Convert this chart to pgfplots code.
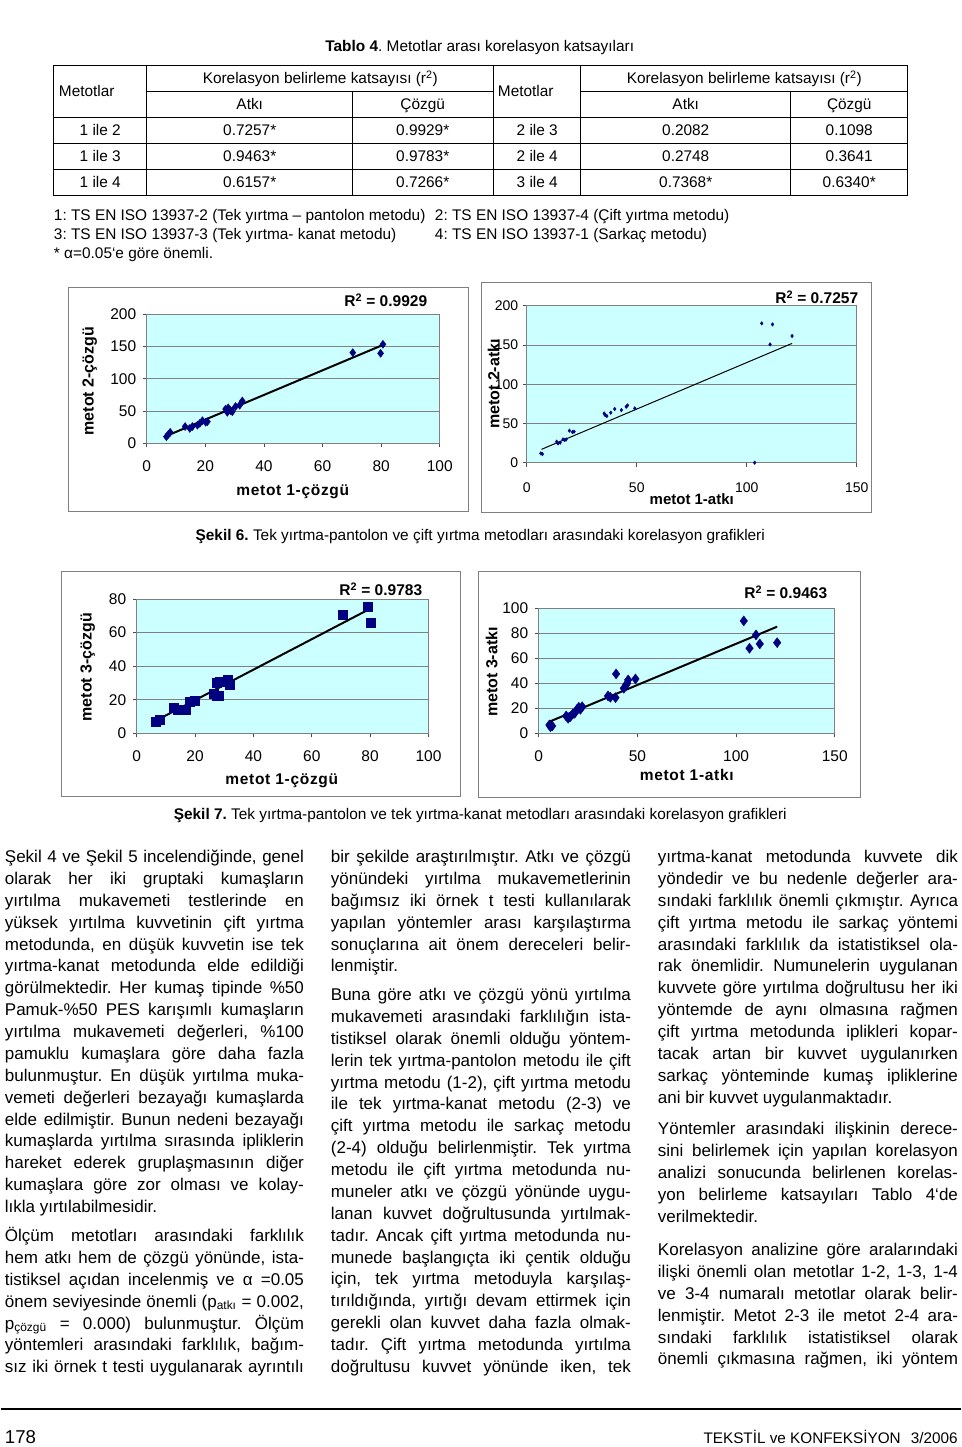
\documentclass[border=0pt]{standalone}
\usepackage{pgfplots}
\pgfplotsset{compat=1.18}
\usepackage{fontspec}
\setmainfont{Liberation Sans}
\frenchspacing
\definecolor{mnavy}{RGB}{0,0,128}
\definecolor{plotbg}{RGB}{204,255,255}
\definecolor{gridc}{RGB}{128,128,128}
\definecolor{framec}{RGB}{128,128,128}
\newcommand\tfont{\fontsize{15.4}{18}\selectfont}
\newcommand\bodyfont{\fontsize{17}{21.88}\selectfont}
\newcommand\J[1]{\hbox to\hsize{#1}}
\newcommand\E[1]{\hbox{#1}}
\newcommand\lsp{\addfontfeature{LetterSpace=4.5}}
\pgfplotsset{
 excel/.style={scale only axis, anchor=south west, clip=false,
   axis background/.style={fill=plotbg},
   ymajorgrids, major grid style={gridc, line width=0.8pt},
   axis line style={gridc, line width=0.8pt},
   tick align=outside, tick pos=left, major tick length=4pt,
   tick style={black!70, line width=0.8pt},
   /pgf/number format/assume math mode=true,
   tick label style={font=\fontsize{15.5}{18}\selectfont},
   xticklabel style={yshift=-10pt}, yticklabel style={xshift=-3pt}},
}
\begin{document}
\begin{tikzpicture}
\fill[white] (0,0) rectangle (960pt,-1447pt);
% ---------------- Table ----------------
\node[anchor=base, inner sep=0, font=\tfont] at (479pt,-51.5pt) {\textbf{Tablo 4}. Metotlar arası korelasyon katsayıları};
\begin{scope}[line width=0.9pt]
\draw (53pt,-65pt) rectangle (907pt,-195pt);
\foreach \y in {117,143,169} \draw (53pt,-\y pt) -- (907pt,-\y pt);
\draw (146pt,-91pt) -- (493pt,-91pt);
\draw (580pt,-91pt) -- (907pt,-91pt);
\foreach \x in {146,493,580} \draw (\x pt,-65pt) -- (\x pt,-195pt);
\foreach \x in {352,790} \draw (\x pt,-91pt) -- (\x pt,-195pt);
\end{scope}
\begin{scope}[every node/.style={inner sep=0, font=\tfont}]
\node[anchor=base west] at (58pt,-96.5pt) {Metotlar};
\node[anchor=base west] at (497pt,-96.5pt) {Metotlar};
\node[anchor=base] at (319.5pt,-83.5pt) {Korelasyon belirleme katsayısı (r\textsuperscript{2})};
\node[anchor=base] at (743.5pt,-83.5pt) {Korelasyon belirleme katsayısı (r\textsuperscript{2})};
\node[anchor=base] at (249pt,-109.5pt) {Atkı};
\node[anchor=base] at (422pt,-109.5pt) {Çözgü};
\node[anchor=base] at (685pt,-109.5pt) {Atkı};
\node[anchor=base] at (848.5pt,-109.5pt) {Çözgü};
\node[anchor=base] at (99.5pt,-135.5pt) {1 ile 2};
\node[anchor=base] at (249pt,-135.5pt) {0.7257*};
\node[anchor=base] at (422pt,-135.5pt) {0.9929*};
\node[anchor=base] at (536.5pt,-135.5pt) {2 ile 3};
\node[anchor=base] at (685pt,-135.5pt) {0.2082};
\node[anchor=base] at (848.5pt,-135.5pt) {0.1098};
\node[anchor=base] at (99.5pt,-161.5pt) {1 ile 3};
\node[anchor=base] at (249pt,-161.5pt) {0.9463*};
\node[anchor=base] at (422pt,-161.5pt) {0.9783*};
\node[anchor=base] at (536.5pt,-161.5pt) {2 ile 4};
\node[anchor=base] at (685pt,-161.5pt) {0.2748};
\node[anchor=base] at (848.5pt,-161.5pt) {0.3641};
\node[anchor=base] at (99.5pt,-187.5pt) {1 ile 4};
\node[anchor=base] at (249pt,-187.5pt) {0.6157*};
\node[anchor=base] at (422pt,-187.5pt) {0.7266*};
\node[anchor=base] at (536.5pt,-187.5pt) {3 ile 4};
\node[anchor=base] at (685pt,-187.5pt) {0.7368*};
\node[anchor=base] at (848.5pt,-187.5pt) {0.6340*};
\node[anchor=base west] at (53pt,-220.5pt) {1: TS EN ISO 13937-2 (Tek yırtma – pantolon metodu)};
\node[anchor=base west] at (434pt,-220.5pt) {2: TS EN ISO 13937-4 (Çift yırtma metodu)};
\node[anchor=base west] at (53pt,-239.5pt) {3: TS EN ISO 13937-3 (Tek yırtma- kanat metodu)};
\node[anchor=base west] at (434pt,-239.5pt) {4: TS EN ISO 13937-1 (Sarkaç metodu)};
\node[anchor=base west] at (53pt,-258.5pt) {* α=0.05`e göre önemli.};
\node[anchor=base] at (479.5pt,-540.5pt) {\textbf{Şekil 6.} Tek yırtma-pantolon ve çift yırtma metodları arasındaki korelasyon grafikleri};
\node[anchor=base] at (479.5pt,-819.5pt) {\textbf{Şekil 7.} Tek yırtma-pantolon ve tek yırtma-kanat metodları arasındaki korelasyon grafikleri};
\end{scope}
% ---------------- Chart frames ----------------
\begin{scope}[framec, line width=1pt]
\draw (68pt,-287pt) rectangle (468pt,-511pt);
\draw (481pt,-282pt) rectangle (871pt,-512pt);
\draw (61pt,-571pt) rectangle (460pt,-796pt);
\draw (478pt,-571pt) rectangle (860pt,-797pt);
\end{scope}
% ---------------- Chart 1 ----------------
\begin{axis}[excel, at={(146pt,-443.3pt)}, width=293pt, height=129pt,
  xmin=0, xmax=100, ymin=0, ymax=200, xtick={0,20,...,100}, ytick={0,50,...,200}]
\addplot[only marks, mark=diamond*, mark size=4pt, mnavy] coordinates {
(6.7,10.3) (7.4,14) (8.0,17) (13.1,26) (14.7,23) (15.6,26) (17.3,28) (18.1,31) (19,35) (20.1,32.6) (20.7,33.6) (26.9,53) (27.8,55) (27.5,48) (28.6,50.6) (29.2,49) (30.3,57) (31.7,59) (32.6,65.6) (70.3,140.6) (79.8,139.5) (80.6,153.5)};
\addplot[black, line width=2pt, no marks] coordinates {(6.7,11.4) (80.6,152.5)};
\end{axis}
% ---------------- Chart 2 ----------------
\begin{axis}[excel, at={(526pt,-462.7pt)}, width=330pt, height=157pt,
  xmin=0, xmax=150, ymin=0, ymax=200, xtick={0,50,...,150}, ytick={0,50,...,200},
  tick label style={font=\fontsize{14}{16}\selectfont},
  xticklabel style={yshift=-2pt}, yticklabel style={xshift=2pt}]
\addplot[only marks, mark=diamond*, mark size=1.8pt, mnavy] coordinates {
(6.4,11.9) (7.1,11) (13.6,26.8) (14.2,24.6) (15.2,25.5) (16.5,29.7) (17.3,28.9) (17.9,29.7) (19.4,40.8) (20.8,39) (21.5,39.5) (35.2,62.8) (35.6,60.7) (36.4,59.4) (38.2,63.7) (40,68.4) (43,67) (45.2,71.3) (45.8,73) (49.1,69.2) (103.6,0) (106.8,177.5) (110.6,150.7) (111.7,176.2) (120.6,161.4)};
\addplot[black, line width=1pt, no marks] coordinates {(6.7,17) (120.6,152)};
\end{axis}
% ---------------- Chart 3 ----------------
\begin{axis}[excel, at={(136pt,-733.3pt)}, width=291.7pt, height=134.3pt,
  xmin=0, xmax=100, ymin=0, ymax=80, xtick={0,20,...,100}, ytick={0,20,...,80}]
\addplot[only marks, mark=square*, mark size=4.5pt, mnavy] coordinates {
(6.5,6.9) (7.7,7.9) (12.8,15.3) (14.2,14.3) (15.3,13.9) (16.8,14.3) (18.3,18.8) (19.9,19.4) (26.5,23.4) (27.4,22.2) (28.2,22.4) (27.4,30.2) (28.6,30.6) (29.4,30.8) (31.1,31.7) (32,28.8) (70.5,70.4) (79.3,75.4) (80.2,66.1)};
\addplot[black, line width=2pt, no marks] coordinates {(6.5,7.5) (80.2,74.4)};
\end{axis}
% ---------------- Chart 4 ----------------
\begin{axis}[excel, at={(538pt,-733.3pt)}, width=296pt, height=125pt,
  xmin=0, xmax=150, ymin=0, ymax=100, xtick={0,50,...,150}, ytick={0,20,...,100}]
\addplot[only marks, mark=diamond*, mark size=5pt, mnavy] coordinates {
(5.4,6.7) (6.8,5.9) (5.9,5.3) (13.9,13.9) (14.9,12) (16,13.3) (17.2,15.5) (18.2,16) (19.4,19.2) (20.3,20.8) (22,21.3) (21.1,19.2) (35.1,29.9) (36.3,28.8) (38.9,28.5) (39.2,47.5) (43.1,36) (44.3,38.7) (45.3,42.7) (44.8,40) (49,43.5) (103.9,89.9) (106.8,68) (110.1,78.7) (112,71.5) (120.8,72.5)};
\addplot[black, line width=2pt, no marks] coordinates {(5.4,9.3) (120.8,85.3)};
\end{axis}
% ---------------- Chart labels ----------------
\begin{scope}[every node/.style={inner sep=0, font=\fontsize{16}{18}\selectfont\bfseries}]
\node[rotate=90] at (89pt,-381pt) {metot 2-çözgü};
\node[rotate=90] at (493pt,-384pt) {metot 2-atkı};
\node[rotate=90] at (87pt,-667pt) {metot 3-çözgü};
\node[rotate=90] at (491pt,-672pt) {metot 3-atkı};
\node[font=\fontsize{15.5}{18}\selectfont\bfseries\lsp] at (292pt,-492pt) {metot 1-çözgü};
\node[font=\fontsize{15}{18}\selectfont\bfseries] at (691pt,-499pt) {metot 1-atkı};
\node[font=\fontsize{15.5}{18}\selectfont\bfseries\lsp] at (281pt,-781pt) {metot 1-çözgü};
\node[font=\fontsize{15.5}{18}\selectfont\bfseries\lsp] at (686pt,-775pt) {metot 1-atkı};
\node[font=\fontsize{15.5}{18}\selectfont\bfseries] at (385pt,-300pt) {R\textsuperscript{2} = 0.9929};
\node[font=\fontsize{15.5}{18}\selectfont\bfseries] at (816pt,-297pt) {R\textsuperscript{2} = 0.7257};
\node[font=\fontsize{15.5}{18}\selectfont\bfseries] at (380pt,-589pt) {R\textsuperscript{2} = 0.9783};
\node[font=\fontsize{15.5}{18}\selectfont\bfseries] at (785pt,-592pt) {R\textsuperscript{2} = 0.9463};
\end{scope}
% ---------------- Body text ----------------
\begin{scope}[every node/.style={inner sep=0, anchor=base west}]
\node at (4pt,-862.5pt) {\vtop{\hsize=299pt\bodyfont
\J{Şekil 4 ve Şekil 5 incelendiğinde, genel}
\J{olarak her iki gruptaki kumaşların}
\J{yırtılma mukavemeti testlerinde en}
\J{yüksek yırtılma kuvvetinin çift yırtma}
\J{metodunda, en düşük kuvvetin ise tek}
\J{yırtma-kanat metodunda elde edildiği}
\J{görülmektedir. Her kumaş tipinde \%50}
\J{Pamuk-\%50 PES karışımlı kumaşların}
\J{yırtılma mukavemeti değerleri, \%100}
\J{pamuklu kumaşlara göre daha fazla}
\J{bulunmuştur. En düşük yırtılma muka-}
\J{vemeti değerleri bezayağı kumaşlarda}
\J{elde edilmiştir. Bunun nedeni bezayağı}
\J{kumaşlarda yırtılma sırasında ipliklerin}
\J{hareket ederek gruplaşmasının diğer}
\J{kumaşlara göre zor olması ve kolay-}
\E{lıkla yırtılabilmesidir.}}};
\node at (4pt,-1241.5pt) {\vtop{\hsize=299pt\bodyfont
\J{Ölçüm metotları arasındaki farklılık}
\J{hem atkı hem de çözgü yönünde, ista-}
\J{tistiksel açıdan incelenmiş ve α =0.05}
\J{önem seviyesinde önemli (p\textsubscript{atkı} = 0.002,}
\J{p\textsubscript{çözgü} = 0.000) bulunmuştur. Ölçüm}
\J{yöntemleri arasındaki farklılık, bağım-}
\J{sız iki örnek t testi uygulanarak ayrıntılı}}};
\node at (330pt,-862.5pt) {\vtop{\hsize=300pt\bodyfont
\J{bir şekilde araştırılmıştır. Atkı ve çözgü}
\J{yönündeki yırtılma mukavemetlerinin}
\J{bağımsız iki örnek t testi kullanılarak}
\J{yapılan yöntemler arası karşılaştırma}
\J{sonuçlarına ait önem dereceleri belir-}
\E{lenmiştir.}}};
\node at (330pt,-1000.5pt) {\vtop{\hsize=300pt\bodyfont
\J{Buna göre atkı ve çözgü yönü yırtılma}
\J{mukavemeti arasındaki farklılığın ista-}
\J{tistiksel olarak önemli olduğu yöntem-}
\J{lerin tek yırtma-pantolon metodu ile çift}
\J{yırtma metodu (1-2), çift yırtma metodu}
\J{ile tek yırtma-kanat metodu (2-3) ve}
\J{çift yırtma metodu ile sarkaç metodu}
\J{(2-4) olduğu belirlenmiştir. Tek yırtma}
\J{metodu ile çift yırtma metodunda nu-}
\J{muneler atkı ve çözgü yönünde uygu-}
\J{lanan kuvvet doğrultusunda yırtılmak-}
\J{tadır. Ancak çift yırtma metodunda nu-}
\J{munede başlangıçta iki çentik olduğu}
\J{için, tek yırtma metoduyla karşılaş-}
\J{tırıldığında, yırtığı devam ettirmek için}
\J{gerekli olan kuvvet daha fazla olmak-}
\J{tadır. Çift yırtma metodunda yırtılma}
\J{doğrultusu kuvvet yönünde iken, tek}}};
\node at (657pt,-862.5pt) {\vtop{\hsize=300pt\bodyfont
\J{yırtma-kanat metodunda kuvvete dik}
\J{yöndedir ve bu nedenle değerler ara-}
\J{sındaki farklılık önemli çıkmıştır. Ayrıca}
\J{çift yırtma metodu ile sarkaç yöntemi}
\J{arasındaki farklılık da istatistiksel ola-}
\J{rak önemlidir. Numunelerin uygulanan}
\J{kuvvete göre yırtılma doğrultusu her iki}
\J{yöntemde de aynı olmasına rağmen}
\J{çift yırtma metodunda iplikleri kopar-}
\J{tacak artan bir kuvvet uygulanırken}
\J{sarkaç yönteminde kumaş ipliklerine}
\E{ani bir kuvvet uygulanmaktadır.}}};
\node at (657pt,-1134.5pt) {\vtop{\hsize=300pt\bodyfont
\J{Yöntemler arasındaki ilişkinin derece-}
\J{sini belirlemek için yapılan korelasyon}
\J{analizi sonucunda belirlenen korelas-}
\J{yon belirleme katsayıları Tablo 4`de}
\E{verilmektedir.}}};
\node at (657pt,-1255.5pt) {\vtop{\hsize=300pt\bodyfont
\J{Korelasyon analizine göre aralarındaki}
\J{ilişki önemli olan metotlar 1-2, 1-3, 1-4}
\J{ve 3-4 numaralı metotlar olarak belir-}
\J{lenmiştir. Metot 2-3 ile metot 2-4 ara-}
\J{sındaki farklılık istatistiksel olarak}
\J{önemli çıkmasına rağmen, iki yöntem}}};
\end{scope}
% ---------------- Footer ----------------
\draw[line width=1.5pt] (0pt,-1409pt) -- (960pt,-1409pt);
\node[anchor=base west, inner sep=0, font=\fontsize{18.6}{20}\selectfont] at (4pt,-1443.7pt) {178};
\node[anchor=base east, inner sep=0, font=\fontsize{15.3}{18}\selectfont] at (957pt,-1443.5pt) {TEKSTİL ve KONFEKSİYON\hspace{10pt}3/2006};
\end{tikzpicture}
\end{document}
